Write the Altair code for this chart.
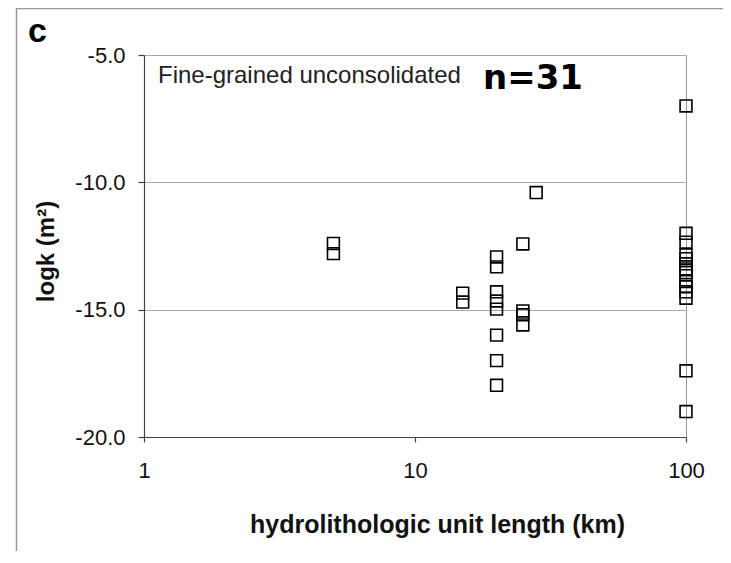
import altair as alt
import pandas as pd

# Data
x_5 = [-12.4, -12.8]
x_15 = [-14.35, -14.7]
x_20 = [-12.93, -13.32, -14.3, -14.66, -14.98, -16.0, -17.0, -17.97]
x_25 = [-12.42, -15.05, -15.2, -15.6]
x_28 = [-10.4]
x_100 = [-7.0, -12.0, -12.35, -12.85, -13.0, -13.2, -13.4, -13.55, -13.9,
         -14.1, -14.3, -14.55, -17.4, -19.0]

groups = {5: x_5, 15: x_15, 20: x_20, 25: x_25, 28: x_28, 100: x_100}
rows = [{"length": k, "logk": v} for k, vals in groups.items() for v in vals]
df = pd.DataFrame(rows)

x_ticks = [1, 10, 100]
y_ticks = [-20, -15, -10, -5]

W, H = 542, 382

points = alt.Chart(df).mark_point(
    shape="square", filled=False, color="black", size=140, strokeWidth=1.6, opacity=1
).encode(
    x=alt.X("length:Q",
            scale=alt.Scale(type="log", domain=[1, 100], nice=False),
            axis=alt.Axis(values=x_ticks, labelExpr="datum.value", grid=False,
                          labelFlush=False,
                          title="hydrolithologic unit length (km)",
                          titleX=293, titleY=95, titleAnchor="start", titleAlign="center",
                          titleBaseline="alphabetic", titleFontSize=25,
                          labelPadding=18, tickSize=5)),
    y=alt.Y("logk:Q",
            scale=alt.Scale(domain=[-20, -5], nice=False, zero=False),
            axis=alt.Axis(values=y_ticks, labelExpr="datum.value + '.0'", grid=True,
                          labelFlush=False,
                          title="logk (m²)",
                          titleX=-91, titleY=196, titleAngle=270, titleAlign="center",
                          titleBaseline="alphabetic",
                          labelPadding=13, tickSize=6)),
)

label_c = alt.Chart(pd.DataFrame({"t": ["c"]})).mark_text(
    font="Liberation Sans", fontSize=34, fontWeight="bold", align="left",
    baseline="alphabetic", color="black"
).encode(x=alt.value(-116), y=alt.value(-13), text="t:N")

label_type = alt.Chart(pd.DataFrame({"t": ["Fine-grained unconsolidated"]})).mark_text(
    font="Liberation Sans", fontSize=24, align="left", baseline="alphabetic", color="#222"
).encode(x=alt.value(14), y=alt.value(28), text="t:N")

label_n = alt.Chart(pd.DataFrame({"t": ["n=31"]})).mark_text(
    font="DejaVu Sans", fontSize=34, fontWeight="bold", align="left",
    baseline="alphabetic", color="black"
).encode(x=alt.value(339), y=alt.value(34), text="t:N")

frame_v = alt.Chart(pd.DataFrame({"a": [0]})).mark_rule(color="#999999", strokeWidth=1.5).encode(
    x=alt.value(-127.5), y=alt.value(-47), y2=alt.value(700))
frame_h = alt.Chart(pd.DataFrame({"a": [0]})).mark_rule(color="#999999", strokeWidth=1.5).encode(
    x=alt.value(-128), x2=alt.value(800), y=alt.value(-46.5))

chart = alt.layer(frame_v, frame_h, points, label_c, label_type, label_n).properties(
    width=W, height=H,
    autosize=alt.AutoSizeParams(type="none"),
    padding={"left": 136, "top": 47, "right": 37, "bottom": 114},
    background="white",
).configure_view(
    stroke="#9a9a9a", strokeWidth=1
).configure_axis(
    labelFont="Liberation Sans", labelFontSize=22, labelColor="#111",
    titleFont="Liberation Sans", titleFontSize=24, titleFontWeight="bold", titleColor="#111",
    domainColor="#444", domainWidth=1.2, tickColor="#444", tickWidth=1.2,
    gridColor="#a8a8a8", gridWidth=1,
)

chart.save("out.html", embed_options={"renderer": "svg", "actions": False})
